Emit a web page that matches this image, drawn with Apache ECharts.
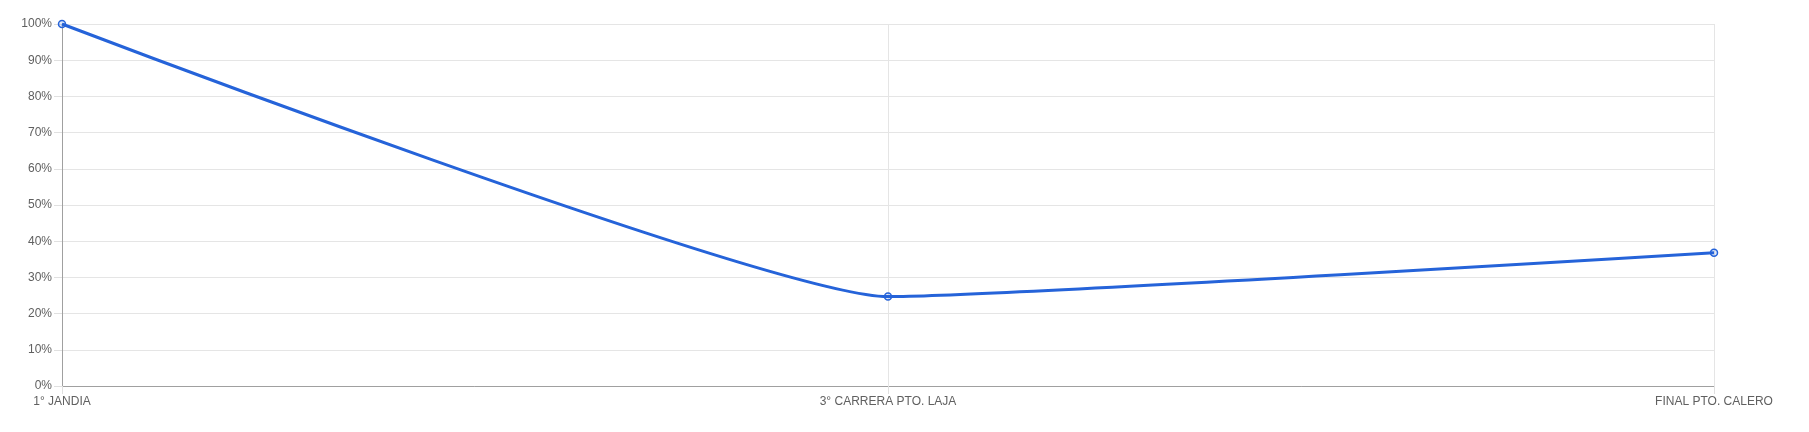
<!DOCTYPE html>
<html>
<head>
<meta charset="utf-8">
<script src="https://cdn.jsdelivr.net/npm/echarts@6/dist/echarts.min.js"></script>
<style>
html,body{margin:0;padding:0;background:#fff;}
#chart{width:1809px;height:432px;}
</style>
</head>
<body>
<div id="chart"></div>
<script>
const categories = ['1° JANDIA', '3° CARRERA PTO. LAJA', 'FINAL PTO. CALERO'];
const values = [100, 24.7, 36.8];
const yTicks = [0, 10, 20, 30, 40, 50, 60, 70, 80, 90, 100];

const chart = echarts.init(document.getElementById('chart'));
chart.setOption({
  animation: false,
  grid: { left: 62, right: 95, top: 24, bottom: 46, containLabel: false },
  xAxis: {
    type: 'category',
    data: categories,
    boundaryGap: false,
    axisLine: { show: true, lineStyle: { color: '#a0a0a0', width: 1 } },
    axisTick: { show: true, length: 8, lineStyle: { color: '#e0e0e0' } },
    axisLabel: { color: '#606060', fontFamily: 'Liberation Sans, Arial, sans-serif', fontSize: 12, margin: 10 },
    splitLine: { show: true, lineStyle: { color: '#e5e5e5', width: 1 } }
  },
  yAxis: {
    type: 'value',
    min: yTicks[0],
    max: yTicks[yTicks.length - 1],
    interval: 10,
    axisLine: { show: true, lineStyle: { color: '#a0a0a0', width: 1 } },
    axisTick: { show: true, length: 8, lineStyle: { color: '#e0e0e0' } },
    axisLabel: { color: '#606060', fontFamily: 'Liberation Sans, Arial, sans-serif', fontSize: 12, margin: 10, formatter: '{value}%' },
    splitLine: { show: true, lineStyle: { color: '#e5e5e5', width: 1 } }
  },
  series: [{
    type: 'line',
    data: values,
    smooth: 0.13,
    smoothConstraint: false,
    symbol: 'circle',
    symbolSize: 7,
    showAllSymbol: true,
    lineStyle: { color: '#2563d9', width: 3 },
    itemStyle: { color: 'rgba(37,99,217,0.15)', borderColor: '#2563d9', borderWidth: 1.5 }
  }]
});
</script>
</body>
</html>
